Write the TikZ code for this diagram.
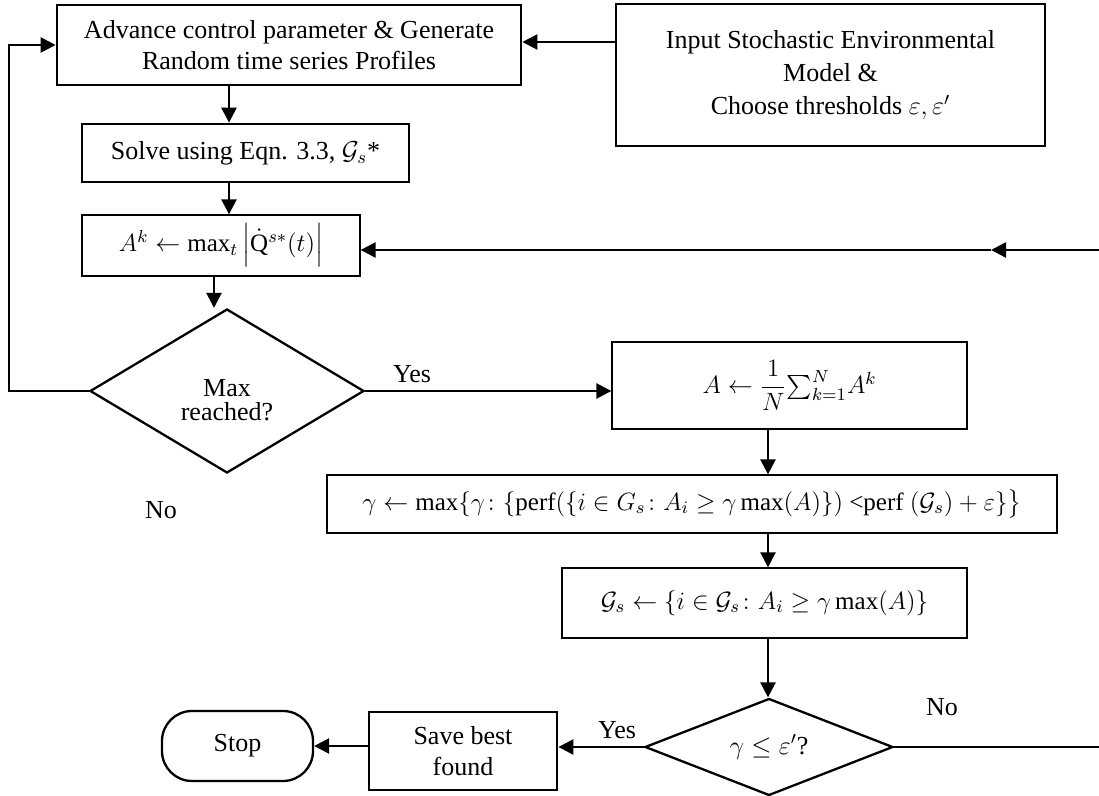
\RequirePackage{fix-cm}
\documentclass[tikz,border=0pt]{standalone}
\usepackage{fontspec}
\setmainfont{Liberation Serif}
\usepackage{amsmath}
\usetikzlibrary{arrows.meta,shapes.geometric,calc}

\begin{document}
\begin{tikzpicture}[x=0.5pt,y=-0.5pt,
  font=\fontsize{13}{15.5}\selectfont,
  box/.style={draw,line width=1.4pt,rectangle,inner sep=0pt,align=center},
  mbox/.style={draw,line width=0.65pt,rectangle,inner sep=0pt,align=center,
    font=\fontsize{12.5}{15}\selectfont},
  dec/.style={draw,line width=1.15pt,diamond,inner sep=0pt,align=center},
  term/.style={draw,line width=1.15pt,rectangle,rounded corners=15pt,inner sep=0pt,align=center},
  arr/.style={line width=1.25pt,-{Triangle[length=7.5pt,width=7.5pt]}},
  ln/.style={line width=1.25pt},
  lbl/.style={inner sep=0pt,align=center}]
\useasboundingbox (0,0) rectangle (1099,796);

% process boxes
\node[box,minimum width=232pt,minimum height=40pt] (adv) at (289,45)
  {Advance control parameter \& Generate\\Random time series Profiles};
\node[box,minimum width=214.5pt,minimum height=71pt,font=\fontsize{13}{16.5}\selectfont] (inp) at (830.5,75)
  {Input Stochastic Environmental\\Model \&\\Choose thresholds $\varepsilon,\varepsilon'$};
\node[box,minimum width=163.5pt,minimum height=29pt] (solve) at (245.5,153)
  {Solve using Eqn. 3.3, $\mathcal{G}_s$*};
\node[mbox,minimum width=139pt,minimum height=30.5pt] (ak) at (221,245.5)
  {$A^k \leftarrow \mathrm{max}_t \left|\dot{\mathrm{Q}}^{s*}(t)\right|$};

% first decision
\node[dec,aspect=1.6,minimum width=137pt,minimum height=82pt] (maxd) at (227,391) {};
\node[lbl,font=\fontsize{13}{12}\selectfont] (maxt) at (227,400) {Max\\reached?};

\node[mbox,minimum width=177.5pt,minimum height=43.5pt] (avg) at (789.5,385.5)
  {$A \leftarrow \dfrac{1}{N}{\textstyle\sum_{k=1}^{N}} A^k$};
\node[mbox,minimum width=365pt,minimum height=29pt] (gam) at (692,504)
  {$\gamma \leftarrow \max\{\gamma\colon\{\mathrm{perf}(\{i\in G_s\colon A_i\geq\gamma\max(A)\})$ <perf $(\mathcal{G}_s)+\varepsilon\}\big\}$};
\node[mbox,minimum width=202.5pt,minimum height=35pt] (gs) at (764.5,603)
  {$\mathcal{G}_s \leftarrow \{i\in\mathcal{G}_s\colon A_i\geq\gamma\max(A)\}$};

% second decision and end
\node[dec,aspect=2.5,minimum width=124pt,minimum height=48.5pt] (gd) at (769,747)
  {$\gamma\le\varepsilon'$?};
\node[box,minimum width=94pt,minimum height=39pt] (save) at (463,751)
  {Save best\\found};
\node[term,minimum width=75.5pt,minimum height=35pt] (stop) at (237.5,746) {Stop};

% branch labels
\node[lbl] (yes1) at (412,374) {Yes};
\node[lbl] (no1) at (161,510) {No};
\node[lbl] (yes2) at (617,730) {Yes};
\node[lbl] (no2) at (942,707) {No};

% routing helpers
\coordinate (xa) at (229,0);
\coordinate (xb) at (214,0);
\coordinate (xl) at (9,0);
\coordinate (xc) at (768,0);
\coordinate (er1) at (1099,747);
\coordinate (er2) at (1099,250);
\coordinate (mk) at (991,250);

% connectors
\draw[arr] (inp.west |- 0,42) -- (adv.east |- 0,42);
\draw[arr] (adv.south -| xa) -- (solve.north -| xa);
\draw[arr] (solve.south -| xa) -- (ak.north -| xa);
\draw[arr] (ak.south -| xb) -- (maxd.north -| xb);
\draw[arr] (maxd.west) -- (maxd.west -| xl) -- (adv.west -| xl) -- (adv.west);
\draw[arr] (maxd.east) -- (avg.west |- maxd.east);
\draw[arr] (avg.south -| xc) -- (gam.north -| xc);
\draw[arr] (gam.south -| xc) -- (gs.north -| xc);
\draw[arr] (gs.south -| xc) -- (gd.north -| xc);
\draw[arr] (gd.west) -- (save.east |- gd.west);
\draw[arr] (save.west |- stop.east) -- (stop.east);
\draw[ln] (gd.east) -- (er1);
\draw[arr] (er2) -- (mk);
\draw[arr] (mk) -- (ak.east |- mk);
\end{tikzpicture}
\end{document}
